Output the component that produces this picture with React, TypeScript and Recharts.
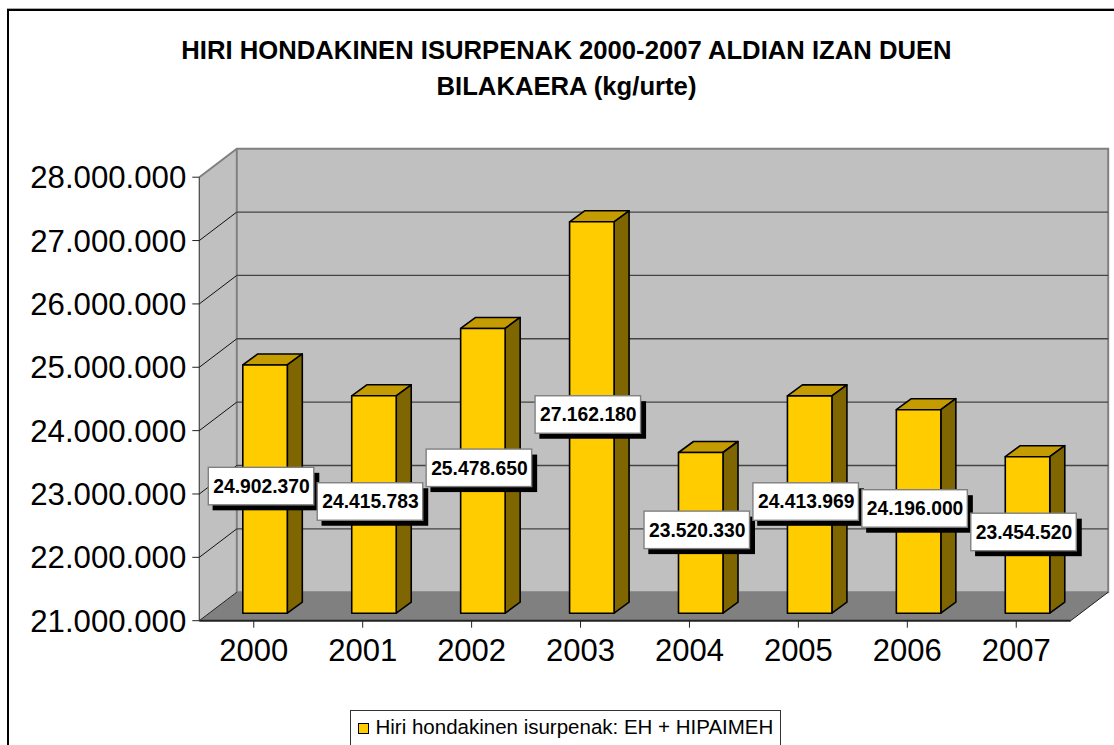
import React from "react";
import { BarChart, Bar, XAxis, YAxis, CartesianGrid, ReferenceArea, LabelList, Legend } from "recharts";

const years = ["2000", "2001", "2002", "2003", "2004", "2005", "2006", "2007"];
const values = [24902370, 24415783, 25478650, 27162180, 23520330, 24413969, 24196000, 23454520];
const yTicks = [21000000, 22000000, 23000000, 24000000, 25000000, 26000000, 27000000, 28000000];
const seriesName = "Hiri hondakinen isurpenak: EH + HIPAIMEH";
const titleLines = ["HIRI HONDAKINEN ISURPENAK 2000-2007 ALDIAN IZAN DUEN", "BILAKAERA (kg/urte)"];

const data = years.map((year, i) => ({ year, value: values[i] }));
const FONT = '"Liberation Sans", Arial, sans-serif';
const fmt = (n: number) => String(Math.round(n)).replace(/\B(?=(\d{3})+$)/g, ".");

const DX = 37.5, DY = 28.5;
const BAR_SHIFT_X = 11.5, BAR_SHIFT_Y = 8.5, BAR_FLOOR = 7.5, SIDE_X = 15, SIDE_Y = 11;

const Walls = (p: any) => {
  const { x, y, width, height } = p;
  const b = y + height, r = x + width;
  return (
    <g>
      <polygon points={`${x},${y} ${x + DX},${y - DY} ${x + DX},${b - DY} ${x},${b}`} fill="#c0c0c0" />
      <rect x={x + DX} y={y - DY} width={width} height={height} fill="#c0c0c0" />
      <polygon points={`${x},${b} ${x + DX},${b - DY} ${r + DX},${b - DY} ${r},${b}`} fill="#808080" />
      <path d={`M${x},${y} L${x + DX},${y - DY} L${r + DX},${y - DY} L${r + DX},${b - DY} L${x + DX},${b - DY} L${x + DX},${y - DY}`} fill="none" stroke="#808080" strokeWidth={2} />
      <path d={`M${x},${b} L${x + DX},${b - DY} M${r},${b} L${r + DX},${b - DY}`} fill="none" stroke="#222" strokeWidth={1} />
      <line x1={x} y1={y} x2={x} y2={b} stroke="#444" strokeWidth={1.2} />
    </g>
  );
};

const GridLine = (p: any) => {
  const { x1, x2, y1, index } = p;
  if (Math.abs(y1 - 177.2) < 1 || y1 > 620) return <g key={index} />;
  return (
    <g key={`${index}-${y1}`}>
      <line x1={x1} y1={y1} x2={x1 + DX} y2={y1 - DY} stroke="#111" strokeWidth={1} />
      <line x1={x1 + DX} y1={y1 - DY} x2={x2 + DX} y2={y1 - DY} stroke="#444" strokeWidth={1.3} />
    </g>
  );
};

const Bar3D = (p: any) => {
  const l = p.x + BAR_SHIFT_X, w = p.width, t = p.y - BAR_SHIFT_Y;
  const b = p.y + p.height - BAR_FLOOR, r = l + w;
  return (
    <g stroke="#000" strokeWidth={1.6} strokeLinejoin="round">
      <polygon points={`${l},${t} ${l + SIDE_X},${t - SIDE_Y} ${r + SIDE_X},${t - SIDE_Y} ${r},${t}`} fill="#c49b00" />
      <polygon points={`${r},${t} ${r + SIDE_X},${t - SIDE_Y} ${r + SIDE_X},${b - SIDE_Y} ${r},${b}`} fill="#806600" />
      <rect x={l} y={t} width={w} height={b - t} fill="#ffcc00" />
    </g>
  );
};

const BoxLabel = (p: any) => {
  const { x, y, width, height, value } = p;
  const bw = 105.5, bh = 37.5;
  const cx = x + BAR_SHIFT_X + width / 2 - 4;
  const cy = y - BAR_SHIFT_Y + (height + BAR_SHIFT_Y - BAR_FLOOR) / 2 - 3;
  return (
    <g>
      <rect x={cx - bw / 2 + 4.3} y={cy - bh / 2 + 5.5} width={bw + 1.2} height={bh} fill="#000" />
      <rect x={cx - bw / 2} y={cy - bh / 2} width={bw} height={bh} fill="#fff" stroke="#808080" strokeWidth={1.4} />
      <text x={cx + 0.5} y={cy + 6.8} textAnchor="middle" fontFamily={FONT} fontWeight="bold" fontSize={19.3} fill="#000">{fmt(Number(value))}</text>
    </g>
  );
};

const LegendBox = () => (
  <div style={{ position: "absolute", left: 350, top: 710, width: 431, height: 50, boxSizing: "border-box", border: "1px solid #333", background: "#fff", fontFamily: FONT, fontSize: 20.5, color: "#000", whiteSpace: "nowrap" }}>
    <span style={{ position: "absolute", left: 7, top: 12, width: 9, height: 9, background: "#ffcc00", border: "1px solid #000" }} />
    <span style={{ position: "absolute", left: 24.5, top: 4, lineHeight: "24px" }}>{seriesName}</span>
  </div>
);

export default function App() {
  return (
    <div style={{ position: "absolute", left: 0, top: 0, width: 1114, height: 745, overflow: "hidden", background: "#fff" }}>
      <div style={{ position: "absolute", left: 7, top: 9, width: 1107, height: 736, borderLeft: "2px solid #000", borderTop: "2px solid #000", boxShadow: "0 -1px 0 #aaa", boxSizing: "border-box" }} />
      <div style={{ position: "absolute", left: 0, top: 32, width: 1133, textAlign: "center", fontFamily: FONT, fontWeight: "bold", fontSize: 25.67, lineHeight: "36px", color: "#000" }}>
        {titleLines.map((t) => <div key={t}>{t}</div>)}
      </div>
      <BarChart
        width={1114}
        height={745}
        data={data}
        margin={{ top: 177.2, right: 43.3, bottom: 94.3, left: 0.3 }}
        style={{ position: "absolute", left: 0, top: 0, overflow: "visible" }}
      >
        <ReferenceArea yAxisId={0} y1={21000000} y2={28000000} ifOverflow="visible" shape={<Walls />} zIndex={-200} />
        <CartesianGrid vertical={false} horizontal={(p: any) => <GridLine {...p} />} syncWithTicks zIndex={-100} />
        <XAxis
          dataKey="year"
          height={30}
          interval={0}
          tickSize={7}
          tickLine={{ stroke: "#222", strokeWidth: 1 }}
          axisLine={{ stroke: "#222", strokeWidth: 2 }}
          tick={{ fontFamily: FONT, fontSize: 31, fill: "#000" }}
          tickMargin={11}
        />
        <YAxis
          type="number"
          domain={[21000000, 28000000]}
          ticks={yTicks}
          width={199}
          interval={0}
          tickFormatter={fmt}
          tickSize={7}
          tickLine={{ stroke: "#222", strokeWidth: 1 }}
          axisLine={false}
          tick={{ fontFamily: FONT, fontSize: 31.2, fill: "#000" }}
          tickMargin={6}
        />
        <Legend content={<LegendBox />} wrapperStyle={{ position: "absolute", left: 0, top: 0, width: 0, height: 0, bottom: "auto" }} />
        <Bar dataKey="value" name={seriesName} barSize={44.5} shape={<Bar3D />} isAnimationActive={false}>
          <LabelList dataKey="value" content={<BoxLabel />} />
        </Bar>
      </BarChart>
    </div>
  );
}
